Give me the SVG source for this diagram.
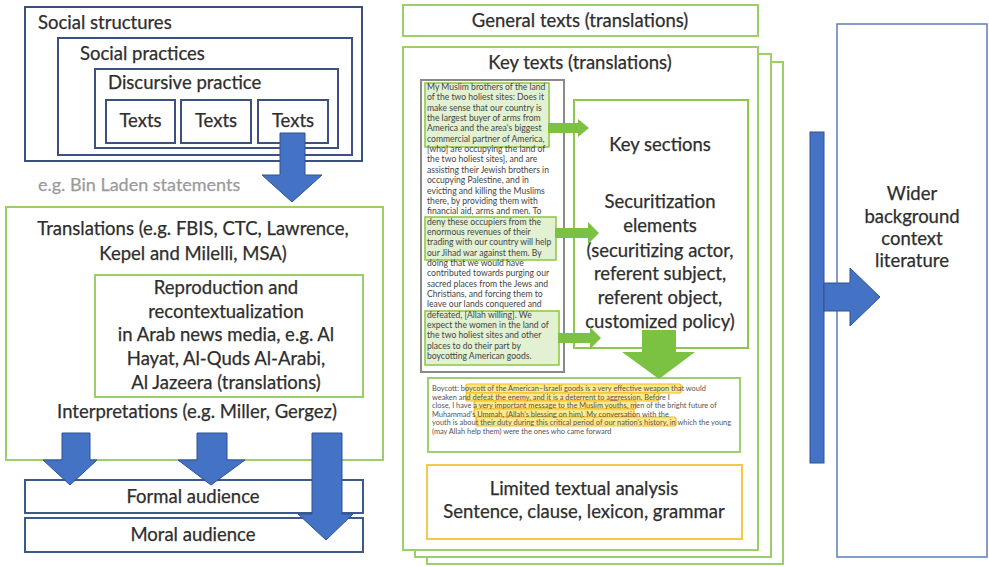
<svg xmlns="http://www.w3.org/2000/svg" width="989" height="567" viewBox="0 0 989 567">
  <style>
    .lbl { font-family: Lato, "Open Sans", "Liberation Sans", sans-serif; font-size: 18.5px; fill: #2e2e2e; stroke: #2e2e2e; stroke-width: 0.25; }
    .mid { text-anchor: middle; }
    .navy { fill: #ffffff; stroke: #3c5180; stroke-width: 2; }
    .aud { fill: #ffffff; stroke: #3a5a8c; stroke-width: 2; }
    .grn { fill: #ffffff; stroke: #9ccf6a; stroke-width: 2; }
    .bluearrow { fill: #4472c4; stroke: #2f528f; stroke-width: 1; }
    .greenarrow { fill: #7cc242; stroke: none; }
    .hl { fill: #e3f1d3; stroke: #8cc63f; stroke-width: 1.5; }
    .yhl { fill: #ffe98a; stroke: #f0bb1c; stroke-width: 1.2; }
    .tiny { font-family: Lato, "Open Sans", "Liberation Sans", sans-serif; font-size: 8.6px; fill: #444444; }
    .micro { font-family: Lato, "Open Sans", "Liberation Sans", sans-serif; font-size: 7.4px; fill: #555555; }
  </style>

  <rect x="0" y="0" width="989" height="567" fill="#ffffff"/>

  <!-- Left: nested social layers -->
  <g id="social-structures">
    <rect class="navy" x="25" y="7" width="337" height="154"/>
    <text class="lbl" x="38" y="29">Social structures</text>
  </g>
  <g id="social-practices">
    <rect class="navy" x="58" y="38" width="294" height="117"/>
    <text class="lbl" x="80" y="60">Social practices</text>
  </g>
  <g id="discursive-practice">
    <rect class="navy" x="95" y="69" width="243" height="79"/>
    <text class="lbl" x="108" y="89">Discursive practice</text>
  </g>
  <g id="texts-1">
    <rect class="navy" x="106" y="100" width="69" height="43"/>
    <text class="lbl mid" x="140.5" y="127">Texts</text>
  </g>
  <g id="texts-2">
    <rect class="navy" x="181" y="100" width="70" height="43"/>
    <text class="lbl mid" x="216" y="127">Texts</text>
  </g>
  <g id="texts-3">
    <rect class="navy" x="258" y="100" width="70" height="43"/>
    <text class="lbl mid" x="293" y="127">Texts</text>
  </g>

  <g id="bin-laden-note">
    <text class="lbl" x="38" y="191" style="fill:#9a9a9a;stroke:#9a9a9a;font-size:18px">e.g. Bin Laden statements</text>
  </g>

  <!-- Translations block -->
  <g id="translations">
    <rect class="grn" x="6" y="207" width="377" height="253"/>
    <text class="lbl mid" x="193" y="235">Translations (e.g. FBIS, CTC, Lawrence,</text>
    <text class="lbl mid" x="193" y="260">Kepel and Milelli, MSA)</text>
    <text class="lbl mid" x="197" y="418">Interpretations (e.g. Miller, Gergez)</text>
  </g>
  <g id="reproduction">
    <rect class="grn" x="95" y="275" width="268" height="122"/>
    <text class="lbl mid" x="226" y="294">Reproduction and</text>
    <text class="lbl mid" x="226" y="318">recontextualization</text>
    <text class="lbl mid" x="226" y="341">in Arab news media,  e.g. Al</text>
    <text class="lbl mid" x="226" y="365">Hayat,  Al-Quds Al-Arabi,</text>
    <text class="lbl mid" x="226" y="389">Al Jazeera (translations)</text>
  </g>

  <g id="formal-audience">
    <rect class="aud" x="25" y="480" width="338" height="33"/>
    <text class="lbl mid" x="193" y="503">Formal audience</text>
  </g>
  <g id="moral-audience">
    <rect class="aud" x="25" y="518" width="338" height="34"/>
    <text class="lbl mid" x="193" y="541">Moral audience</text>
  </g>

  <!-- Middle: text corpus -->
  <g id="general-texts">
    <rect class="grn" x="403" y="5" width="355" height="31"/>
    <text class="lbl mid" x="580" y="27">General texts (translations)</text>
  </g>

  <g id="key-texts">
    <rect class="grn" x="427" y="62" width="356" height="502"/>
    <rect class="grn" x="415" y="54" width="356" height="503"/>
    <rect class="grn" x="403" y="47" width="355" height="503"/>
    <text class="lbl mid" x="580" y="69">Key texts (translations)</text>
  </g>

  <g id="excerpt">
    <rect x="421" y="80" width="143" height="292" fill="#ffffff" stroke="#8a8a8a" stroke-width="2"/>
    <rect class="hl" x="425" y="83" width="124" height="64"/>
    <rect class="hl" x="425" y="217" width="131" height="43"/>
    <rect class="hl" x="425" y="311" width="134" height="54"/>
    <text class="tiny" x="427">
      <tspan x="427" y="90">My Muslim brothers of the land</tspan>
      <tspan x="427" y="100.3">of the two holiest sites: Does it</tspan>
      <tspan x="427" y="110.7">make sense that our country is</tspan>
      <tspan x="427" y="121">the largest buyer of arms from</tspan>
      <tspan x="427" y="131.4">America and the area's biggest</tspan>
      <tspan x="427" y="141.7">commercial partner of America,</tspan>
      <tspan x="427" y="152.1">[who] are occupying the land of</tspan>
      <tspan x="427" y="162.4">the two holiest sites], and are</tspan>
      <tspan x="427" y="172.8">assisting their Jewish brothers in</tspan>
      <tspan x="427" y="183.1">occupying Palestine, and in</tspan>
      <tspan x="427" y="193.5">evicting and killing the Muslims</tspan>
      <tspan x="427" y="203.8">there, by providing them with</tspan>
      <tspan x="427" y="214.2">financial aid, arms and men. To</tspan>
      <tspan x="427" y="224.5">deny these occupiers from the</tspan>
      <tspan x="427" y="234.9">enormous revenues of their</tspan>
      <tspan x="427" y="245.2">trading with our country will help</tspan>
      <tspan x="427" y="255.6">our Jihad war against them. By</tspan>
      <tspan x="427" y="265.9">doing that we would have</tspan>
      <tspan x="427" y="276.3">contributed towards purging our</tspan>
      <tspan x="427" y="286.6">sacred places from the Jews and</tspan>
      <tspan x="427" y="297">Christians, and forcing them to</tspan>
      <tspan x="427" y="307.3">leave our lands conquered and</tspan>
      <tspan x="427" y="317.7">defeated, [Allah willing]. We</tspan>
      <tspan x="427" y="328">expect the women in the land of</tspan>
      <tspan x="427" y="338.4">the two holiest sites and other</tspan>
      <tspan x="427" y="348.7">places to do their part by</tspan>
      <tspan x="427" y="359.1">boycotting American goods.</tspan>
    </text>
  </g>

  <g id="key-sections">
    <rect x="574" y="100" width="174" height="248" fill="#ffffff" stroke="#8cc84b" stroke-width="2"/>
    <text class="lbl mid" x="660" y="151">Key sections</text>
    <text class="lbl mid" x="660" y="208">Securitization</text>
    <text class="lbl mid" x="660" y="232">elements</text>
    <text class="lbl mid" x="660" y="257">(securitizing actor,</text>
    <text class="lbl mid" x="660" y="280">referent subject,</text>
    <text class="lbl mid" x="660" y="304">referent object,</text>
    <text class="lbl mid" x="660" y="328">customized policy)</text>
  </g>

  <g id="second-excerpt">
    <rect x="428" y="378" width="312" height="74" fill="#ffffff" stroke="#9ccf70" stroke-width="2"/>
    <rect class="yhl" x="466" y="384" width="215" height="9" rx="2"/>
    <rect class="yhl" x="466" y="393" width="193" height="8" rx="2"/>
    <rect class="yhl" x="474" y="401" width="162" height="8" rx="2"/>
    <rect class="yhl" x="474" y="409" width="160" height="8" rx="2"/>
    <rect class="yhl" x="476" y="417" width="200" height="9" rx="2"/>
    <text class="micro">
      <tspan x="432" y="391">Boycott: boycott of the American–Israeli goods is a very effective weapon that would</tspan>
      <tspan x="432" y="399.5">weaken and defeat the enemy, and it is a deterrent to aggression.  Before I</tspan>
      <tspan x="432" y="408">close, I have a very important message to the Muslim youths, men of the bright future of</tspan>
      <tspan x="432" y="416.5">Muhammad's Ummah, (Allah's blessing on him). My conversation with the</tspan>
      <tspan x="432" y="425">youth is about their duty during this critical period of our nation's history, in which the young</tspan>
      <tspan x="432" y="433.5">(may Allah help them) were the ones who came forward</tspan>
    </text>
  </g>

  <g id="limited-analysis">
    <rect x="427" y="465" width="315" height="74" fill="#ffffff" stroke="#f2c94c" stroke-width="2"/>
    <text class="lbl mid" x="584" y="495">Limited textual analysis</text>
    <text class="lbl mid" x="584" y="518">Sentence, clause, lexicon, grammar</text>
  </g>

  <!-- Right: background literature -->
  <g id="wider-context">
    <rect x="837" y="24" width="150" height="533" fill="#ffffff" stroke="#5b7db8" stroke-width="1.5"/>
    <text class="lbl mid" x="912" y="200">Wider</text>
    <text class="lbl mid" x="912" y="223">background</text>
    <text class="lbl mid" x="912" y="245">context</text>
    <text class="lbl mid" x="912" y="267">literature</text>
  </g>

  <!-- Connectors -->
  <g id="connectors">
    <!-- blue block arrows -->
    <polygon class="bluearrow" points="280,133 305,133 305,175 322,175 292,202 262,175 280,175"/>
    <polygon class="bluearrow" points="62,433 90,433 90,460 97,460 70,485 43,460 62,460"/>
    <polygon class="bluearrow" points="197,433 227,433 227,460 245,460 211,485 178,460 197,460"/>
    <polygon class="bluearrow" points="312,433 342,433 342,514 353,514 326,540 298,514 312,514"/>
    <rect x="810" y="132" width="14" height="331" fill="#4472c4" stroke="#2f528f" stroke-width="1"/>
    <polygon class="bluearrow" points="824,283 850,283 850,268 880,297 850,326 850,311 824,311"/>
    <!-- green arrows from highlighted passages -->
    <polygon class="greenarrow" points="548,123 578,123 578,119 589,128 578,137 578,133 548,133"/>
    <polygon class="greenarrow" points="555,228 588,228 588,222 599,233 588,244 588,238 555,238"/>
    <polygon class="greenarrow" points="558,333 590,333 590,327 601,338 590,349 590,343 558,343"/>
    <polygon class="greenarrow" points="642,330 676,330 676,352 695,352 659,379 622,352 642,352"/>
  </g>
</svg>
